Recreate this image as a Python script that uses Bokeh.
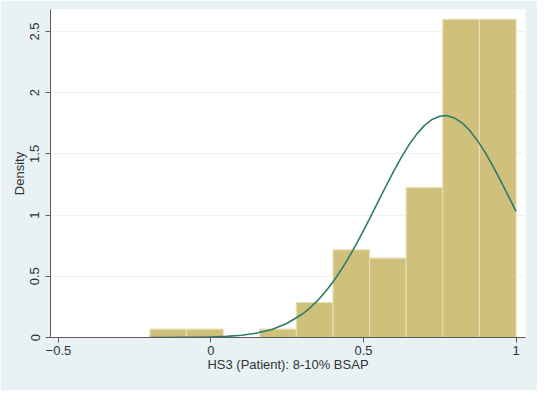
import math
from bokeh.plotting import figure
from bokeh.models import FixedTicker, Range1d
from bokeh.embed import file_html
from bokeh.resources import INLINE

# Histogram bins (left edges, right edges) and density heights
bin_left = [-0.20, -0.08, 0.04, 0.16, 0.28, 0.40, 0.52, 0.64, 0.76, 0.88]
bin_right = [-0.08, 0.04, 0.16, 0.28, 0.40, 0.52, 0.64, 0.76, 0.88, 1.00]
density = [0.068, 0.068, 0.0, 0.068, 0.286, 0.716, 0.648, 1.225, 2.60, 2.60]

# Normal density overlay
curve_x = [-0.20, -0.15, -0.10, -0.05, 0.00, 0.05, 0.10, 0.15, 0.20, 0.25,
           0.30, 0.325, 0.35, 0.375, 0.40, 0.425, 0.45, 0.475, 0.50, 0.525,
           0.55, 0.575, 0.60, 0.625, 0.65, 0.675, 0.70, 0.725, 0.75, 0.77,
           0.775, 0.80, 0.825, 0.85, 0.875, 0.90, 0.925, 0.95, 0.975, 1.00]
curve_y = [0.0002, 0.0003, 0.0008, 0.0019, 0.0042, 0.0091, 0.0186, 0.036, 0.066, 0.116,
           0.192, 0.243, 0.303, 0.374, 0.454, 0.545, 0.646, 0.756, 0.873, 0.995,
           1.120, 1.244, 1.364, 1.476, 1.578, 1.664, 1.733, 1.782, 1.808, 1.813,
           1.812, 1.791, 1.749, 1.686, 1.604, 1.506, 1.396, 1.278, 1.155, 1.030]

x_ticks = [-0.5, 0, 0.5, 1]
x_tick_labels = ["\u22120.5", "0", "0.5", "1"]
y_ticks = [0, 0.5, 1, 1.5, 2, 2.5]
y_tick_labels = ["0", "0.5", "1", "1.5", "2", "2.5"]

x_label = "HS3 (Patient): 8-10% BSAP"
y_label = "Density"

FONT = "Liberation Sans"
TXT = "#333333"

p = figure(width=537, height=390, output_backend="svg", toolbar_location=None,
           x_range=Range1d(-0.526, 1.031), y_range=Range1d(0, 2.68),
           min_border_left=50, min_border_right=12, min_border_top=9, min_border_bottom=53)

p.background_fill_color = "white"
p.border_fill_color = "#E8F1F3"
p.outline_line_color = None

p.quad(left=bin_left, right=bin_right, bottom=0, top=density,
       fill_color="#CFC17C", line_color="#E6DEB4", line_width=1.2)

p.line(curve_x, curve_y, line_color="#2F7A6B", line_width=1.6, line_join="round")

p.xgrid.visible = False
p.ygrid.ticker = FixedTicker(ticks=y_ticks[1:])
p.ygrid.grid_line_color = "#E9F1F3"
p.ygrid.grid_line_width = 1

for ax in (p.xaxis[0], p.yaxis[0]):
    ax.axis_line_color = "#5A5A5A"
    ax.major_tick_line_color = "#5A5A5A"
    ax.major_tick_out = 5
    ax.major_tick_in = 0
    ax.minor_tick_line_color = None
    ax.major_label_text_font = FONT
    ax.major_label_text_font_size = "13px"
    ax.major_label_text_color = TXT
    ax.axis_label_text_font = FONT
    ax.axis_label_text_font_size = "13px"
    ax.axis_label_text_font_style = "normal"
    ax.axis_label_text_color = TXT

p.xaxis.ticker = FixedTicker(ticks=x_ticks)
p.xaxis.major_label_overrides = {t: l for t, l in zip(x_ticks, x_tick_labels)}
p.xaxis.major_label_standoff = 3
p.xaxis.axis_label = x_label
p.xaxis.axis_label_standoff = -1

p.yaxis.ticker = FixedTicker(ticks=y_ticks)
p.yaxis.major_label_overrides = {t: l for t, l in zip(y_ticks, y_tick_labels)}
p.yaxis.major_label_orientation = "vertical"
p.yaxis.major_label_standoff = 6
p.yaxis.axis_label = y_label
p.yaxis.axis_label_standoff = 1

open("out.html", "w").write(file_html(p, INLINE))
